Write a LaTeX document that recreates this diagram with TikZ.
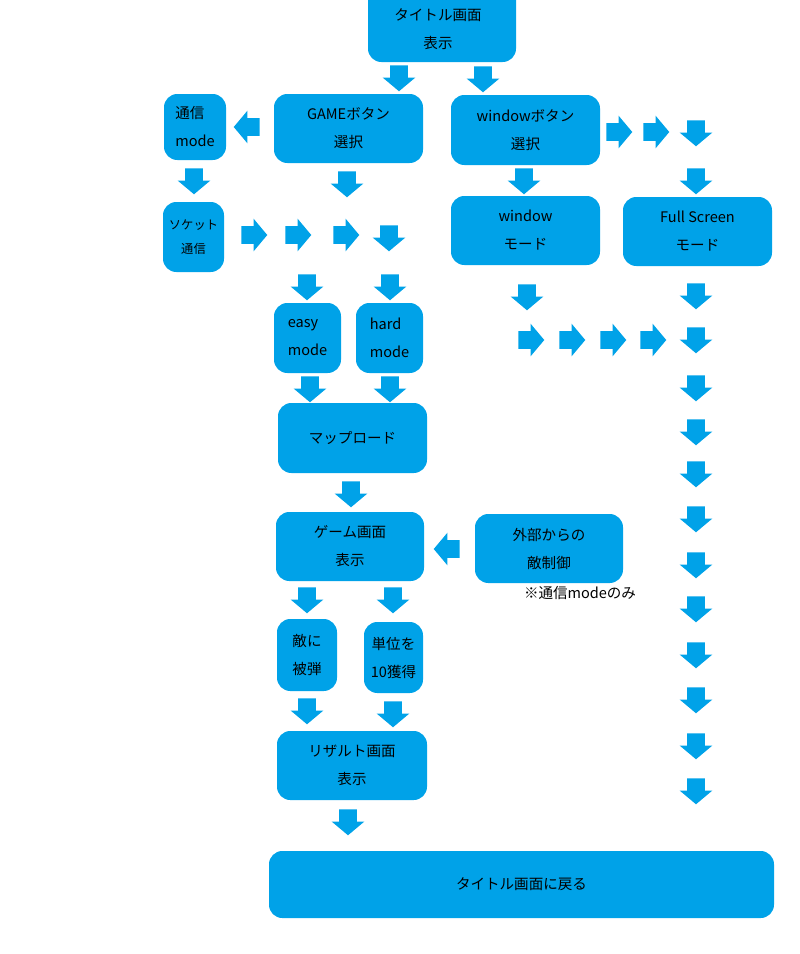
\documentclass[tikz,border=0pt]{standalone}
\usepackage{fontspec}
\setmainfont{Noto Sans CJK JP}
\usetikzlibrary{shapes.arrows}
\definecolor{flowblue}{RGB}{0,162,232}

\begin{document}
\begin{tikzpicture}[x=0.75pt,y=-0.75pt,
    box/.style={fill=flowblue, rounded corners=10pt, align=center, inner sep=0pt,
      font=\fontsize{10.9pt}{21pt}\selectfont},
    blk/.style={single arrow, fill=flowblue, inner xsep=0pt, inner ysep=6.5pt, anchor=tail,
      minimum height=19.5pt, single arrow head extend=5.5pt, single arrow tip angle=100},
    adown/.style={blk, rotate=-90},
    aright/.style={blk},
    aleft/.style={blk, rotate=180}]
  \useasboundingbox (0,0) rectangle (800,954);

  % boxes
  \node[box, minimum width=111pt, minimum height=57pt] (title) at (442,24) {};
  \node[box, fill=none] (titletxt) at (438,29) {タイトル画面\\表示};
  \node[box, minimum width=111.75pt, minimum height=51.75pt] (gamebtn) at (348.5,128.5) {GAMEボタン\\選択};
  \node[box, minimum width=46.5pt, minimum height=49.5pt, align=left] (tsushin) at (195,127) {通信\\mode};
  \node[box, minimum width=111.75pt, minimum height=52.5pt] (winbtn) at (525.5,130) {windowボタン\\選択};
  \node[box, minimum width=45.75pt, minimum height=52.5pt,
    font=\fontsize{9.2pt}{18.5pt}\selectfont] (socket) at (193.5,237) {ソケット\\通信};
  \node[box, minimum width=111.75pt, minimum height=51.75pt] (winmode) at (525.5,230.5) {window\\モード};
  \node[box, minimum width=111.75pt, minimum height=51.75pt] (fullmode) at (697.5,231.5) {Full Screen\\モード};
  \node[box, minimum width=50.25pt, minimum height=52.5pt, align=left] (easy) at (307.5,338) {easy\\mode};
  \node[box, minimum width=50.25pt, minimum height=52.5pt, align=left] (hard) at (389.5,338) {hard\\mode};
  \node[box, minimum width=111.75pt, minimum height=52.5pt] (mapload) at (352.5,438) {マップロード};
  \node[box, minimum width=111pt, minimum height=51.75pt] (gamescr) at (350,546.5) {ゲーム画面\\表示};
  \node[box, minimum width=111pt, minimum height=51.75pt] (extctl) at (549,548.5) {外部からの\\敵制御};
  \node[font=\fontsize{10.9pt}{13pt}\selectfont, inner sep=0pt] (note) at (580,593) {※通信modeのみ};
  \node[box, minimum width=45pt, minimum height=54pt, align=left] (hidan) at (307,655) {敵に\\被弾};
  \node[box, minimum width=44.25pt, minimum height=53.25pt] (tani) at (393.5,657.5) {単位を\\10獲得};
  \node[box, minimum width=112.5pt, minimum height=51.75pt] (result) at (352,765.5) {リザルト画面\\表示};
  \node[box, minimum width=378.75pt, minimum height=50.25pt] (back) at (521.5,884.5) {タイトル画面に戻る};

  % arrows (placed by their tails)
  \node[adown] (a1) at (399,65) {};
  \node[adown] (a2) at (483,66) {};
  \node[aleft] (a3) at (260,127) {};
  \node[adown] (a4) at (194,168) {};
  \node[adown] (a5) at (347,171) {};
  \node[adown] (a6) at (524,168) {};
  \node[aright] (a7) at (606,132) {};
  \node[aright] (a8) at (643,132) {};
  \node[adown] (a9) at (696,120) {};
  \node[adown] (a10) at (696,168) {};
  \node[aright] (a11) at (241,235) {};
  \node[aright] (a12) at (285,235) {};
  \node[aright] (a13) at (333,235) {};
  \node[adown] (a14) at (389,225) {};
  \node[adown] (a15) at (307,274) {};
  \node[adown] (a16) at (390,274) {};
  \node[adown] (a17) at (527,284) {};
  \node[adown] (a18) at (696,283) {};
  \node[aright] (a19) at (518,340) {};
  \node[aright] (a20) at (559,340) {};
  \node[aright] (a21) at (600,340) {};
  \node[aright] (a22) at (640,340) {};
  \node[adown] (a23) at (696,327) {};
  \node[adown] (a24) at (310,376) {};
  \node[adown] (a25) at (390,376) {};
  \node[adown] (a26) at (351,481) {};
  \node[aleft] (a27) at (460,549) {};
  \node[adown] (a28) at (307,587) {};
  \node[adown] (a29) at (393,587) {};
  \node[adown] (a30) at (307,698) {};
  \node[adown] (a31) at (393,701) {};
  \node[adown] (a32) at (348,809) {};
  % right column
  \node[adown] (r1) at (696,375) {};
  \node[adown] (r2) at (696,419) {};
  \node[adown] (r3) at (696,461) {};
  \node[adown] (r4) at (696,506) {};
  \node[adown] (r5) at (696,552) {};
  \node[adown] (r6) at (696,596) {};
  \node[adown] (r7) at (696,642) {};
  \node[adown] (r8) at (696,687) {};
  \node[adown] (r9) at (696,733) {};
  \node[adown] (r10) at (696,778) {};
\end{tikzpicture}
\end{document}
